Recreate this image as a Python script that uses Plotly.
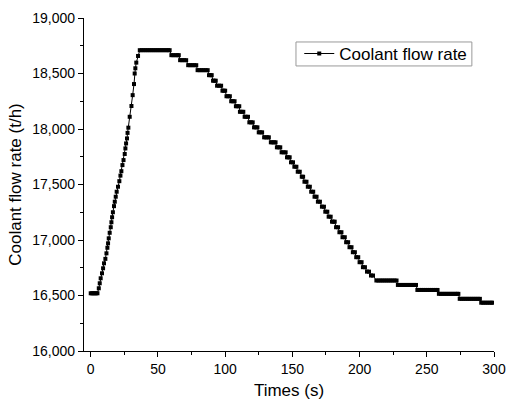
import plotly.graph_objects as go

# Time (s) of each recorded sample
time_s = [
    0, 1, 2, 3, 4, 5,
    6.0, 6.7, 7.4, 8.4, 9.2, 9.9, 10.9, 11.7, 12.4, 12.9, 13.4, 14.1, 14.9, 15.4, 15.9,
    16.5, 17.3, 17.9, 18.6, 19.3, 20.3, 21.3, 22.1, 22.8, 23.6, 24.4, 25.3, 25.8, 26.3,
    27.0, 27.4, 28.0, 29.0, 30.3, 31.2, 32.2, 32.7, 33.2, 33.9, 35.2,
    36.5, 38, 39.5, 41, 42.5, 44, 45.5, 47, 48.5, 50, 51.5, 53, 54.5, 56, 57.5, 58.7,
    60, 61.5, 63, 64.5, 65.5,
    66.5, 68, 69.5, 71,
    72.5, 74, 75.5, 77, 78.5,
    79.5, 81, 82.5, 84, 85.5, 87,
    88, 89, 90,
    91, 92, 93,
    94, 95.5, 97,
    98, 99, 100,
    101, 102.2, 103.5,
    104.5, 105.7, 107,
    108, 109.2, 110.5,
    111, 112.2, 113.5,
    114.5, 115.7, 117,
    118, 119.2, 120.5,
    121.5, 122.7, 124,
    125, 126.2, 127.5,
    129, 130.2, 131.4, 132.5,
    134, 135.2, 136.4, 137.5,
    138.5, 139.7, 141,
    142, 143.5, 145,
    146, 147, 148,
    149, 150.5,
    151.5, 153,
    154, 155.5,
    157, 158,
    159, 160.5,
    161.5, 163,
    164, 165.5,
    166.5, 168,
    169, 170.5,
    172, 173.5,
    174.5, 176,
    177, 178.5,
    179.5, 180.5, 181.5,
    182.5, 184,
    185, 186.5,
    187.3, 189,
    190, 191.5,
    192.5, 194,
    195, 196.5,
    197.5, 199,
    200, 201.5,
    202.5, 204,
    205.5, 207,
    208.5, 210,
    212.5, 214, 215.5, 217, 218.5, 220, 221.5, 223, 224.5, 226, 227.5,
    228.5, 230, 231.5, 233, 234.5, 236, 237.5, 239, 240.5, 242,
    243, 244.5, 246, 247.5, 249, 250.5, 252, 253.5, 255, 256.5, 258,
    259, 260.5, 262, 263.5, 265, 266.5, 268, 269.5, 271, 272.5, 273.5,
    274.5, 276, 277.5, 279, 280.5, 282, 283.5, 285, 286.5, 288, 289.5,
    290.5, 292, 293.5, 295, 296.5, 298, 299,
]

# Coolant flow rate (t/h) of each sample
flow_th = [
    16520, 16520, 16520, 16520, 16520, 16520,
    16565, 16610, 16655, 16700, 16745, 16790, 16830, 16880, 16930, 16970, 17015, 17065, 17115, 17160, 17205,
    17250, 17305, 17345, 17390, 17435, 17480, 17530, 17580, 17620, 17675, 17720, 17775, 17825, 17870,
    17915, 17965, 18012, 18110, 18207, 18305, 18405, 18500, 18547, 18598, 18658,
    18710, 18710, 18710, 18710, 18710, 18710, 18710, 18710, 18710, 18710, 18710, 18710, 18710, 18710, 18710, 18710,
    18665, 18665, 18665, 18665, 18665,
    18620, 18620, 18620, 18620,
    18575, 18575, 18575, 18575, 18575,
    18530, 18530, 18530, 18530, 18530, 18530,
    18485, 18485, 18485,
    18435, 18435, 18435,
    18390, 18390, 18390,
    18345, 18345, 18345,
    18295, 18295, 18295,
    18250, 18250, 18250,
    18205, 18205, 18205,
    18155, 18155, 18155,
    18110, 18110, 18110,
    18060, 18060, 18060,
    18015, 18015, 18015,
    17970, 17970, 17970,
    17925, 17925, 17925, 17925,
    17880, 17880, 17880, 17880,
    17835, 17835, 17835,
    17790, 17790, 17790,
    17745, 17745, 17745,
    17700, 17700,
    17660, 17660,
    17615, 17615,
    17570, 17570,
    17525, 17525,
    17480, 17480,
    17435, 17435,
    17390, 17390,
    17345, 17345,
    17300, 17300,
    17255, 17255,
    17210, 17210,
    17165, 17165, 17165,
    17115, 17115,
    17070, 17070,
    17025, 17025,
    16980, 16980,
    16935, 16935,
    16890, 16890,
    16845, 16845,
    16800, 16800,
    16755, 16755,
    16715, 16715,
    16680, 16680,
    16635, 16635, 16635, 16635, 16635, 16635, 16635, 16635, 16635, 16635, 16635,
    16595, 16595, 16595, 16595, 16595, 16595, 16595, 16595, 16595, 16595,
    16550, 16550, 16550, 16550, 16550, 16550, 16550, 16550, 16550, 16550, 16550,
    16515, 16515, 16515, 16515, 16515, 16515, 16515, 16515, 16515, 16515, 16515,
    16470, 16470, 16470, 16470, 16470, 16470, 16470, 16470, 16470, 16470, 16470,
    16435, 16435, 16435, 16435, 16435, 16435, 16435,
]

x_ticks = [0, 50, 100, 150, 200, 250, 300]
y_ticks = [16000, 16500, 17000, 17500, 18000, 18500, 19000]
y_tick_labels = ["16,000", "16,500", "17,000", "17,500", "18,000", "18,500", "19,000"]

FONT = "Liberation Sans, Arial, sans-serif"

fig = go.Figure()
fig.add_trace(go.Scatter(
    x=time_s, y=flow_th, mode="lines+markers", name="Coolant flow rate",
    line=dict(color="black", width=1),
    marker=dict(symbol="square", size=4, color="black"),
))

fig.update_layout(
    width=507, height=408,
    margin=dict(l=84, r=13, t=18, b=57, autoexpand=False),
    paper_bgcolor="white", plot_bgcolor="white",
    font=dict(family=FONT, size=14, color="black"),
    showlegend=True,
    legend=dict(
        x=0.525, y=0.892, xanchor="left", yanchor="middle",
        borderwidth=0, bgcolor="rgba(0,0,0,0)",
        font=dict(size=17, family=FONT),
        itemwidth=30, tracegroupgap=0,
    ),
    # thin grey frame around the legend, like the reference
    shapes=[dict(
        type="rect", xref="paper", yref="paper",
        x0=0.517, x1=0.946, y0=0.856, y1=0.928,
        line=dict(color="#9a9a9a", width=1), fillcolor="rgba(0,0,0,0)", layer="above",
    )],
    xaxis=dict(
        range=[-5, 300], tickvals=x_ticks, showgrid=False, zeroline=False, automargin=False,
        showline=True, linecolor="black", linewidth=1.3,
        ticks="outside", ticklen=5, tickwidth=1, tickcolor="black",
        minor=dict(ticks="outside", ticklen=3, dtick=25, tick0=0, tickcolor="black", showgrid=False),
        title=dict(text="Times (s)", font=dict(size=17, family=FONT), standoff=8),
        tickfont=dict(size=14, family=FONT),
    ),
    yaxis=dict(
        range=[16000, 19000], tickvals=y_ticks, ticktext=y_tick_labels, showgrid=False, zeroline=False,
        automargin=False,
        showline=True, linecolor="black", linewidth=1.3,
        ticks="outside", ticklen=5, tickwidth=1, tickcolor="black",
        minor=dict(ticks="outside", ticklen=3, dtick=250, tick0=16000, tickcolor="black", showgrid=False),
        title=dict(text="Coolant flow rate (t/h)", font=dict(size=17, family=FONT), standoff=6),
        tickfont=dict(size=14, family=FONT),
    ),
)

fig.write_html(
    "out.html",
    config={"displayModeBar": False},
    post_script="document.body.style.margin='0';document.body.style.padding='0';",
)
